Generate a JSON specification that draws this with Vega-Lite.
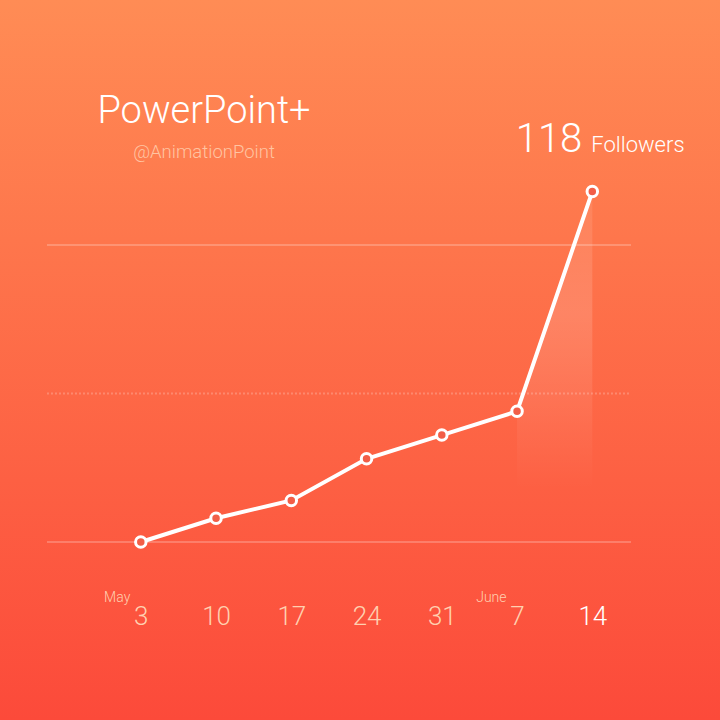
{
  "$schema": "https://vega.github.io/schema/vega-lite/v6.json",
  "width": 720,
  "height": 720,
  "autosize": {"type": "none"},
  "padding": 0,
  "background": "#FA744A",
  "config": {
    "view": {"stroke": null},
    "font": "Roboto",
    "axis": {"labelFont": "Roboto"},
    "text": {"font": "Roboto"}
  },
  "title": {
    "text": "PowerPoint+",
    "subtitle": "@AnimationPoint",
    "anchor": "middle",
    "dx": -156,
    "offset": -161,
    "font": "Roboto",
    "fontSize": 38,
    "fontWeight": 300,
    "color": "white",
    "subtitleFont": "Roboto",
    "subtitleFontSize": 18.5,
    "subtitleFontWeight": 300,
    "subtitleColor": "#FFC4A2",
    "subtitlePadding": 12
  },
  "data": {
    "values": [
      {"date": "2015-05-03", "followers": 0},
      {"date": "2015-05-10", "followers": 8},
      {"date": "2015-05-17", "followers": 14},
      {"date": "2015-05-24", "followers": 28},
      {"date": "2015-05-31", "followers": 36},
      {"date": "2015-06-07", "followers": 44},
      {"date": "2015-06-14", "followers": 118}
    ],
    "format": {"parse": {"date": "utc:'%Y-%m-%d'"}}
  },
  "layer": [
    {
      "data": {"values": [{}]},
      "mark": {
        "type": "rect",
        "fill": {
          "gradient": "linear",
          "x1": 0, "y1": 0, "x2": 0, "y2": 1,
          "stops": [
            {"offset": 0, "color": "#FF8C55"},
            {"offset": 1, "color": "#FC4A3A"}
          ]
        }
      },
      "encoding": {}
    },
    {
      "data": {"values": [{"level": 0}, {"level": 50}, {"level": 100}]},
      "mark": {"type": "rule", "color": "white", "opacity": 0.22, "strokeWidth": 2},
      "encoding": {
        "x": {
          "datum": {"year": 2015, "month": 4, "date": 24, "hours": 6, "minutes": 34, "utc": true},
          "type": "temporal",
          "axis": null,
          "scale": {
            "type": "utc",
            "domain": [
              {"year": 2015, "month": 4, "date": 19, "hours": 21, "minutes": 39, "utc": true},
              {"year": 2015, "month": 6, "date": 25, "hours": 21, "minutes": 6, "utc": true}
            ]
          }
        },
        "x2": {"datum": {"year": 2015, "month": 6, "date": 17, "hours": 14, "minutes": 24, "utc": true}},
        "y": {
          "field": "level",
          "type": "quantitative",
          "scale": {"domain": [-59.93, 182.49], "nice": false, "zero": false},
          "axis": null
        },
        "strokeDash": {
          "condition": {"test": "datum.level == 50", "value": [2, 2]},
          "value": [1, 0]
        }
      }
    },
    {
      "transform": [{"filter": "utcmonth(datum.date) == 5"}],
      "mark": {
        "type": "area",
        "fill": {
          "gradient": "linear",
          "x1": 0, "y1": 0, "x2": 0, "y2": 1,
          "stops": [
            {"offset": 0, "color": "rgba(255,255,255,0.08)"},
            {"offset": 0.35, "color": "rgba(255,255,255,0.15)"},
            {"offset": 0.85, "color": "rgba(255,255,255,0)"}
          ]
        }
      },
      "encoding": {
        "x": {"field": "date", "type": "temporal", "axis": null},
        "y": {"field": "followers", "type": "quantitative", "axis": null},
        "y2": {"datum": 0}
      }
    },
    {
      "mark": {"type": "line", "color": "white", "strokeWidth": 4},
      "encoding": {
        "x": {
          "field": "date",
          "type": "temporal",
          "axis": {
            "orient": "bottom",
            "offset": -96,
            "zindex": 2,
            "title": null,
            "domain": false,
            "ticks": false,
            "grid": false,
            "labelPadding": 0,
            "labelBaseline": "alphabetic",
            "labelFontSize": 26,
            "labelFontWeight": 300,
            "labelFlush": false,
            "labelOverlap": false,
            "labelColor": {
              "condition": {"test": "utcdate(datum.value) == 14", "value": "white"},
              "value": "#FFD0B0"
            },
            "values": [
              {"year": 2015, "month": 5, "date": 3, "utc": true},
              {"year": 2015, "month": 5, "date": 10, "utc": true},
              {"year": 2015, "month": 5, "date": 17, "utc": true},
              {"year": 2015, "month": 5, "date": 24, "utc": true},
              {"year": 2015, "month": 5, "date": 31, "utc": true},
              {"year": 2015, "month": 6, "date": 7, "utc": true},
              {"year": 2015, "month": 6, "date": 14, "utc": true}
            ],
            "labelExpr": "utcFormat(datum.value, '%-d')"
          }
        },
        "y": {"field": "followers", "type": "quantitative", "axis": null}
      }
    },
    {
      "mark": {"type": "circle", "size": 110, "fill": "#F25E47", "stroke": "white", "strokeWidth": 3, "opacity": 1},
      "encoding": {
        "x": {
          "field": "date",
          "type": "temporal",
          "axis": {
            "orient": "top",
            "offset": -601,
            "zindex": 2,
            "title": null,
            "domain": false,
            "ticks": false,
            "grid": false,
            "labelPadding": 0,
            "labelBaseline": "alphabetic",
            "labelAlign": "right",
            "labelOffset": -11,
            "labelFontSize": 14,
            "labelFontWeight": 300,
            "labelFlush": false,
            "labelOverlap": false,
            "labelColor": "#FFD0B0",
            "values": [
              {"year": 2015, "month": 5, "date": 3, "utc": true},
              {"year": 2015, "month": 6, "date": 7, "utc": true}
            ],
            "labelExpr": "utcFormat(datum.value, '%B')"
          }
        },
        "y": {"field": "followers", "type": "quantitative", "axis": null}
      }
    },
    {
      "transform": [{"filter": "utcdate(datum.date) == 14"}],
      "mark": {"type": "text", "align": "right", "baseline": "alphabetic", "dx": -10, "dy": -40, "fontSize": 40, "fontWeight": 300, "color": "white"},
      "encoding": {
        "x": {"field": "date", "type": "temporal", "axis": null},
        "y": {"field": "followers", "type": "quantitative", "axis": null},
        "text": {"field": "followers", "type": "quantitative"}
      }
    },
    {
      "transform": [{"filter": "utcdate(datum.date) == 14"}],
      "mark": {"type": "text", "align": "left", "baseline": "alphabetic", "dx": -1, "dy": -40, "fontSize": 22, "fontWeight": 300, "color": "white", "text": "Followers"},
      "encoding": {
        "x": {"field": "date", "type": "temporal", "axis": null},
        "y": {"field": "followers", "type": "quantitative", "axis": null}
      }
    }
  ],
  "resolve": {"axis": {"x": "independent"}}
}
